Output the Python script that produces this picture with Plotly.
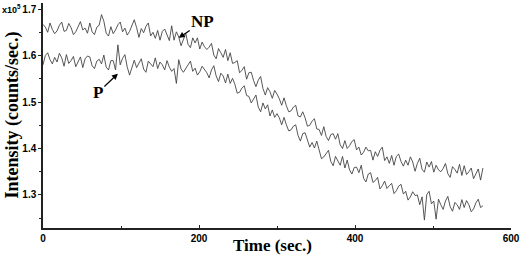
import plotly.graph_objects as go

# time axis (sec.), one sample every 3 s
time_s = list(range(0, 567, 3))

# NP series (x10^5 counts/sec.)
np_vals = [
    1.667, 1.661, 1.650, 1.670, 1.656, 1.647, 1.653, 1.665, 1.672, 1.652,
    1.654, 1.669, 1.660, 1.645, 1.651, 1.664, 1.673, 1.655, 1.659, 1.648,
    1.670, 1.651, 1.645, 1.661, 1.665, 1.688, 1.674, 1.648, 1.642, 1.662,
    1.647, 1.655, 1.666, 1.672, 1.651, 1.659, 1.644, 1.652, 1.665, 1.677,
    1.660, 1.639, 1.658, 1.649, 1.663, 1.670, 1.642, 1.650, 1.637, 1.654,
    1.633, 1.652, 1.657, 1.643, 1.632, 1.664, 1.633, 1.651, 1.640, 1.621,
    1.637, 1.648, 1.624, 1.617, 1.638, 1.627, 1.638, 1.614, 1.629, 1.619,
    1.613, 1.618, 1.626, 1.601, 1.593, 1.615, 1.606, 1.596, 1.613, 1.589,
    1.606, 1.583, 1.585, 1.589, 1.563, 1.568, 1.576, 1.549, 1.563, 1.564,
    1.546, 1.533, 1.547, 1.555, 1.529, 1.515, 1.531, 1.522, 1.508, 1.525,
    1.517, 1.507, 1.493, 1.509, 1.492, 1.479, 1.481, 1.489, 1.493, 1.470,
    1.468, 1.479, 1.466, 1.448, 1.450, 1.459, 1.464, 1.442, 1.441, 1.428,
    1.447, 1.426, 1.417, 1.430, 1.432, 1.420, 1.432, 1.408, 1.400, 1.417,
    1.400, 1.406, 1.415, 1.419, 1.397, 1.403, 1.386, 1.392, 1.403, 1.395,
    1.396, 1.375, 1.393, 1.383, 1.396, 1.403, 1.374, 1.382, 1.368, 1.385,
    1.364, 1.383, 1.388, 1.372, 1.362, 1.375, 1.364, 1.382, 1.371, 1.351,
    1.368, 1.379, 1.355, 1.349, 1.371, 1.360, 1.372, 1.349, 1.364, 1.354,
    1.350, 1.357, 1.368, 1.346, 1.338, 1.361, 1.355, 1.347, 1.366, 1.342,
    1.363, 1.344, 1.350, 1.358, 1.335, 1.344, 1.356, 1.332, 1.358,
]

# P series (x10^5 counts/sec.)
p_vals = [
    1.580, 1.600, 1.606, 1.591, 1.582, 1.596, 1.586, 1.605, 1.595, 1.577,
    1.602, 1.583, 1.589, 1.598, 1.576, 1.585, 1.597, 1.574, 1.593, 1.599,
    1.597, 1.578, 1.572, 1.588, 1.592, 1.582, 1.601, 1.575, 1.569, 1.589,
    1.589, 1.569, 1.623, 1.580, 1.594, 1.602, 1.575, 1.558, 1.572, 1.590,
    1.574, 1.582, 1.593, 1.571, 1.564, 1.588, 1.583, 1.576, 1.595, 1.572,
    1.586, 1.580, 1.569, 1.589, 1.575, 1.566, 1.572, 1.540, 1.591, 1.571,
    1.564, 1.572, 1.582, 1.588, 1.566, 1.573, 1.558, 1.565, 1.577, 1.570,
    1.563, 1.552, 1.569, 1.578, 1.556, 1.544, 1.562, 1.556, 1.541, 1.560,
    1.540, 1.551, 1.538, 1.519, 1.521, 1.530, 1.535, 1.514, 1.512, 1.498,
    1.507, 1.515, 1.489, 1.479, 1.498, 1.485, 1.494, 1.470, 1.483, 1.467,
    1.475, 1.466, 1.451, 1.467, 1.451, 1.438, 1.440, 1.448, 1.451, 1.428,
    1.416, 1.432, 1.434, 1.417, 1.403, 1.413, 1.401, 1.416, 1.399, 1.378,
    1.382, 1.388, 1.396, 1.372, 1.363, 1.383, 1.373, 1.364, 1.383, 1.358,
    1.375, 1.354, 1.345, 1.359, 1.360, 1.348, 1.364, 1.336, 1.328, 1.345,
    1.348, 1.327, 1.331, 1.338, 1.313, 1.320, 1.330, 1.314, 1.320, 1.325,
    1.303, 1.309, 1.319, 1.323, 1.302, 1.308, 1.289, 1.296, 1.307, 1.299,
    1.300, 1.279, 1.296, 1.246, 1.301, 1.308, 1.281, 1.287, 1.248, 1.291,
    1.279, 1.269, 1.287, 1.297, 1.275, 1.265, 1.284, 1.279, 1.269, 1.290,
    1.273, 1.288, 1.279, 1.264, 1.270, 1.283, 1.291, 1.273, 1.277,
]

x_ticks = [0, 200, 400, 600]
y_ticks = [1.3, 1.4, 1.5, 1.6, 1.7]

line_color = "#444444"
axis_color = "#222222"
serif = "Liberation Serif"
sans = "Liberation Sans"

fig = go.Figure()
fig.add_trace(go.Scatter(x=time_s, y=np_vals, mode="lines", name="NP",
                         line=dict(color=line_color, width=0.9)))
fig.add_trace(go.Scatter(x=time_s, y=p_vals, mode="lines", name="P",
                         line=dict(color=line_color, width=0.9)))

fig.update_layout(
    template="none",
    width=520, height=256,
    margin=dict(l=43, r=9, t=3, b=28, autoexpand=False),
    paper_bgcolor="white", plot_bgcolor="white",
    showlegend=False,
    xaxis=dict(range=[0, 600], tickvals=x_ticks, ticktext=[str(v) for v in x_ticks],
               automargin=False,
               showgrid=False, zeroline=False, showline=True,
               linecolor=axis_color, linewidth=1.5,
               ticks="inside", ticklen=3, tickcolor=axis_color,
               minor=dict(dtick=100, ticks="inside", ticklen=2, tickcolor=axis_color, showgrid=False),
               tickfont=dict(family=sans, size=10, color="black", weight="bold")),
    yaxis=dict(range=[1.229, 1.713], tickvals=y_ticks,
               ticktext=["%.1f" % v for v in y_ticks],
               automargin=False,
               showgrid=False, zeroline=False, showline=True,
               linecolor=axis_color, linewidth=1.5,
               ticks="outside", ticklen=3, tickcolor=axis_color,
               minor=dict(dtick=0.05, tick0=1.25, ticks="outside", ticklen=2,
                          tickcolor=axis_color, showgrid=False),
               tickfont=dict(family=sans, size=10, color="black", weight="bold")),
)

annotations = [
    dict(text="Time (sec.)", xref="paper", yref="paper", x=0.49, y=0, yshift=-17,
         xanchor="center", yanchor="middle", showarrow=False,
         font=dict(family=serif, size=17, color="black", weight="bold")),
    dict(text="Intensity (counts/sec.)", xref="paper", yref="paper", x=0, xshift=-31,
         y=0.5, textangle=-90, xanchor="center", yanchor="middle", showarrow=False,
         font=dict(family=serif, size=18, color="black", weight="bold")),
    dict(text="x10<sup>5</sup>", xref="paper", yref="y", x=0, xshift=-43, y=1.7,
         xanchor="left", yanchor="middle", showarrow=False,
         font=dict(family=sans, size=9, color="black", weight="bold")),
    dict(text="NP", x=174, y=1.638, ax=24, ay=-16, showarrow=True,
         arrowhead=2, arrowsize=1, arrowwidth=1.2, arrowcolor="black",
         font=dict(family=serif, size=17, color="black", weight="bold")),
    dict(text="P", x=96, y=1.561, ax=-20, ay=19, showarrow=True,
         arrowhead=2, arrowsize=1, arrowwidth=1.2, arrowcolor="black",
         font=dict(family=serif, size=17, color="black", weight="bold")),
]
fig.update_layout(annotations=annotations)

fig.write_html("out.html", config={"displayModeBar": False},
               post_script="document.body.style.margin='0px';")
